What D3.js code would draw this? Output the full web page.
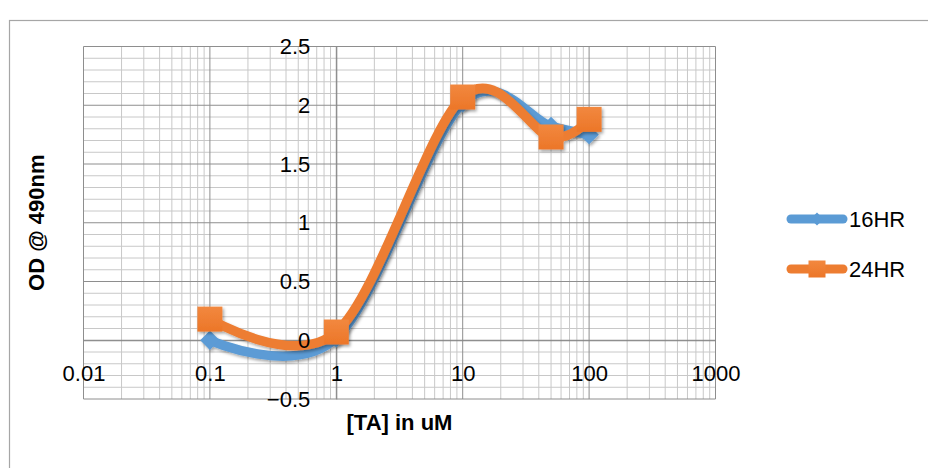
<!DOCTYPE html>
<html>
<head>
<meta charset="utf-8">
<script src="https://cdn.jsdelivr.net/npm/d3@7/dist/d3.min.js"></script>
<style>
  html, body { margin: 0; padding: 0; background: #fff; }
  svg { display: block; }
  text { font-family: "Liberation Sans", Arial, sans-serif; fill: #000; }
</style>
</head>
<body>
<svg id="chart" width="928" height="468"></svg>
<script>
// Concentration of TA (uM) and optical density readings
const concentrations = [0.1, 1, 10, 50, 100];
const od16hr = [0.0, 0.02, 2.02, 1.82, 1.75];
const od24hr = [0.18, 0.07, 2.07, 1.73, 1.88];
const seriesNames = ["16HR", "24HR"];
const xTickValues = [0.01, 0.1, 1, 10, 100, 1000];
const yTickValues = [-0.5, 0, 0.5, 1, 1.5, 2, 2.5];

const svg = d3.select("#chart");
const plot = { left: 83.5, right: 715.5, top: 46.5, bottom: 399 };

const x = d3.scaleLog().domain([0.01, 1000]).range([plot.left, plot.right]);
const y = d3.scaleLinear().domain([-0.5, 2.5]).range([plot.bottom, plot.top]);

// drop shadow for the series
const defs = svg.append("defs");
const f = defs.append("filter").attr("id", "shadow")
  .attr("x", "-30%").attr("y", "-30%").attr("width", "160%").attr("height", "160%");
f.append("feDropShadow").attr("dx", 1.5).attr("dy", 2).attr("stdDeviation", 1.6)
  .attr("flood-color", "#000").attr("flood-opacity", 0.35);
const grad = defs.append("linearGradient").attr("id", "sqFill")
  .attr("x1", 0).attr("y1", 0).attr("x2", 0).attr("y2", 1);
grad.append("stop").attr("offset", "0%").attr("stop-color", "#F2883F");
grad.append("stop").attr("offset", "100%").attr("stop-color", "#EC7628");

// chart frame
svg.append("rect").attr("x", 9.5).attr("y", 20.5).attr("width", 940).attr("height", 470)
  .attr("fill", "none").attr("stroke", "#a6a6a6").attr("stroke-width", 1.2);

// minor gridlines
const minorX = [];
for (let e = -2; e < 3; e++) for (let m = 2; m <= 9; m++) minorX.push(m * Math.pow(10, e));
const minorY = d3.range(-5, 26).map(d => d / 10).filter(v => Math.abs(Math.round(v * 2) - v * 2) > 1e-6);

const grid = svg.append("g");
grid.selectAll("line.mx").data(minorX).join("line")
  .attr("x1", d => x(d)).attr("x2", d => x(d)).attr("y1", plot.top).attr("y2", plot.bottom)
  .attr("stroke", "#c8c8c8").attr("stroke-width", 1);
grid.selectAll("line.my").data(minorY).join("line")
  .attr("x1", plot.left).attr("x2", plot.right).attr("y1", d => y(d)).attr("y2", d => y(d))
  .attr("stroke", "#c8c8c8").attr("stroke-width", 1);
// major gridlines
grid.selectAll("line.Mx").data(xTickValues).join("line")
  .attr("x1", d => x(d)).attr("x2", d => x(d)).attr("y1", plot.top).attr("y2", plot.bottom)
  .attr("stroke", "#8e8e8e").attr("stroke-width", 1);
grid.selectAll("line.My").data(yTickValues).join("line")
  .attr("x1", plot.left).attr("x2", plot.right).attr("y1", d => y(d)).attr("y2", d => y(d))
  .attr("stroke", "#8e8e8e").attr("stroke-width", 1);

// axes cross at x = 1 and y = 0
const yAxis = d3.axisLeft(y).tickValues(yTickValues).tickSize(0).tickPadding(26)
  .tickFormat(d => d3.format("")(d));
const xAxis = d3.axisBottom(x).tickValues(xTickValues).tickSize(0).tickPadding(25)
  .tickFormat(d => String(d));

// axis lines sit beneath the series
svg.append("g").attr("transform", `translate(${x(1)},0)`).call(yAxis)
  .call(g => g.select(".domain").attr("stroke", "#868686"))
  .call(g => g.selectAll(".tick").remove());
svg.append("g").attr("transform", `translate(0,${y(0)})`).call(xAxis)
  .call(g => g.select(".domain").attr("stroke", "#868686"))
  .call(g => g.selectAll(".tick").remove());

// series
const colors = ["#5B9BD5", "#ED7D31"];
const series = [od16hr, od24hr];
const line = d3.line().x(d => x(d[0])).y(d => y(d[1])).curve(d3.curveCatmullRom.alpha(0));

series.forEach((vals, i) => {
  const pts = concentrations.map((c, k) => [c, vals[k]]);
  const g = svg.append("g").attr("filter", "url(#shadow)");
  g.append("path").datum(pts).attr("d", line).attr("fill", "none")
    .attr("stroke", colors[i]).attr("stroke-width", 9.5).attr("stroke-linecap", "round")
    .attr("stroke-linejoin", "round");
  if (i === 0) {
    g.selectAll("path.m").data(pts).join("path")
      .attr("d", d3.symbol(d3.symbolDiamond2, 240)())
      .attr("transform", d => `translate(${x(d[0])},${y(d[1])})`)
      .attr("fill", colors[i]);
  } else {
    g.selectAll("rect.m").data(pts).join("rect")
      .attr("x", d => x(d[0]) - 12.5).attr("y", d => y(d[1]) - 12.5)
      .attr("width", 25).attr("height", 25).attr("fill", "url(#sqFill)");
  }
});

// tick labels drawn over the series
svg.append("g").attr("transform", `translate(${x(1)},0)`).call(yAxis)
  .call(g => g.select(".domain").remove())
  .call(g => g.selectAll("text").attr("font-size", 22).style("font-family", "Liberation Sans, Arial, sans-serif"));
svg.append("g").attr("transform", `translate(0,${y(0)})`).call(xAxis)
  .call(g => g.select(".domain").remove())
  .call(g => g.selectAll("text").attr("font-size", 22).attr("dy", "0.32em").attr("y", 34)
    .style("font-family", "Liberation Sans, Arial, sans-serif"));

// axis titles
svg.append("text").attr("x", 399.5).attr("y", 430).attr("text-anchor", "middle")
  .attr("font-size", 22).attr("font-weight", "bold").text("[TA] in uM");
svg.append("text").attr("transform", `translate(44,${(plot.top + plot.bottom) / 2}) rotate(-90)`)
  .attr("text-anchor", "middle").attr("font-size", 22).attr("font-weight", "bold").text("OD @ 490nm");

// legend
const legend = svg.append("g");
const legendY = [219, 269];
seriesNames.forEach((name, i) => {
  const g = legend.append("g");
  g.append("line").attr("x1", 791).attr("x2", 843).attr("y1", legendY[i]).attr("y2", legendY[i])
    .attr("stroke", colors[i]).attr("stroke-width", 9).attr("stroke-linecap", "round");
  if (i === 0) {
    g.append("path").attr("d", d3.symbol(d3.symbolDiamond2, 110)())
      .attr("transform", `translate(817,${legendY[i]})`).attr("fill", colors[i]);
  } else {
    g.append("rect").attr("x", 808.5).attr("y", legendY[i] - 8.5).attr("width", 17).attr("height", 17)
      .attr("fill", "url(#sqFill)");
  }
  g.append("text").attr("x", 849).attr("y", legendY[i]).attr("dy", "0.35em")
    .attr("font-size", 22).text(name);
});
</script>
</body>
</html>
